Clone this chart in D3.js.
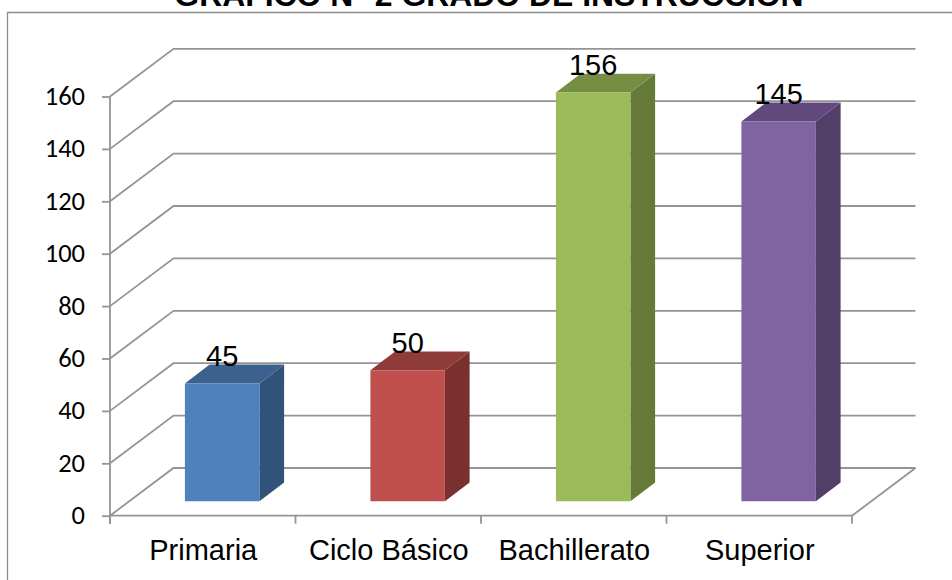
<!DOCTYPE html>
<html>
<head>
<meta charset="utf-8">
<script src="https://cdn.jsdelivr.net/npm/d3@7"></script>
<style>
html, body { margin: 0; padding: 0; background: #fff; overflow: hidden; }
svg { display: block; }
</style>
</head>
<body>
<svg id="chart" width="952" height="580"></svg>
<script>
const categories = ["Primaria", "Ciclo Básico", "Bachillerato", "Superior"];
const values = [45, 50, 156, 145];
const frontColors = ["#4f81bd", "#c0504d", "#9bbb59", "#8064a2"];
const topColors = ["#3c618f", "#8f3b39", "#768e43", "#61497e"];
const sideColors = ["#325379", "#7a302e", "#657a39", "#523f68"];
const yTicks = [0, 20, 40, 60, 80, 100, 120, 140, 160];
const titleText = "GRÁFICO N° 2 GRADO DE INSTRUCCIÓN";

const svg = d3.select("#chart");
const gridColor = "#949494";

// Oblique projection: the floor recedes up and to the right.
const depth = { dx: 63.5, dy: -47.7 };
const barDepth = { dx: 24.7, dy: -18.8 };
const barLift = { dx: 19.4, dy: -14.4 };

const x = d3.scaleBand().domain(categories).range([110, 852]).paddingInner(0).paddingOuter(0);
const y = d3.scaleLinear().domain([0, 160]).range([515.7, 96.5]);

// Chart frame
svg.append("path")
  .attr("d", "M7.5,580V12.5H952")
  .attr("fill", "none").attr("stroke", "#8c8c8c").attr("stroke-width", 1.3);

// Title, running off the top of the frame
svg.append("text").text(titleText)
  .attr("x", 489).attr("y", 6)
  .attr("text-anchor", "middle")
  .attr("font-family", "Liberation Sans").attr("font-weight", "bold")
  .attr("font-size", 31.9).attr("fill", "#000");

// Gridlines: slanted part on the side wall, straight part on the back wall
const grid = svg.append("g").attr("fill", "none").attr("stroke", gridColor).attr("stroke-width", 1.8);
grid.selectAll("path").data(yTicks).join("path")
  .attr("d", d => {
    const p = d3.path();
    p.moveTo(x.range()[0], y(d));
    p.lineTo(x.range()[0] + depth.dx, y(d) + depth.dy);
    p.lineTo(x.range()[1] + depth.dx, y(d) + depth.dy);
    return p.toString();
  });

// Floor edges
const floor = d3.path();
floor.moveTo(x.range()[1] + depth.dx, y(0) + depth.dy);
floor.lineTo(x.range()[1], y(0));
grid.append("path").attr("d", floor.toString());

// Value axis
const yAxis = svg.append("g")
  .attr("transform", `translate(${x.range()[0]},0)`)
  .call(d3.axisLeft(y).tickValues(yTicks).tickSize(8).tickPadding(17).tickFormat(d3.format("d")));
yAxis.select(".domain").remove();
yAxis.append("line").attr("y1", y(160)).attr("y2", y(0) + 8);
yAxis.selectAll("line").attr("stroke", gridColor).attr("stroke-width", 1.8);
yAxis.selectAll("text")
  .attr("font-family", "Carlito, Open Sans, Liberation Sans").attr("font-size", 26.5).attr("fill", "#000")
  .attr("dy", "0.3em");

// Category axis
const boundaries = categories.map(c => x(c)).concat(x.range()[1]);
const xAxis = svg.append("g").attr("stroke", gridColor).attr("stroke-width", 1.8);
xAxis.append("line").attr("x1", x.range()[0]).attr("x2", x.range()[1]).attr("y1", y(0)).attr("y2", y(0));
xAxis.selectAll("line.tick").data(boundaries).join("line").attr("class", "tick")
  .attr("x1", d => d).attr("x2", d => d).attr("y1", y(0)).attr("y2", y(0) + 8);

svg.append("g").selectAll("text").data(categories).join("text")
  .text(d => d)
  .attr("x", d => x(d) + x.bandwidth() / 2 + 0.5)
  .attr("y", 560)
  .attr("text-anchor", "middle")
  .attr("font-family", "Liberation Sans").attr("font-size", 29).attr("fill", "#000");

// Bars: front, top and side faces
const barWidth = 74.5;
const unit = (y(0) - y(1));
const bars = svg.append("g").selectAll("g").data(categories).join("g");
const geom = (c, i) => {
  const left = x(c) + x.bandwidth() / 2 + barLift.dx - barWidth / 2;
  const bottom = y(0) + barLift.dy;
  return { left, right: left + barWidth, bottom, top: bottom - values[i] * unit };
};
bars.append("path")
  .attr("fill", (c, i) => sideColors[i])
  .attr("d", (c, i) => {
    const g = geom(c, i);
    return `M${g.right},${g.top}l${barDepth.dx},${barDepth.dy}V${g.bottom + barDepth.dy}L${g.right},${g.bottom}Z`;
  });
bars.append("path")
  .attr("fill", (c, i) => topColors[i])
  .attr("d", (c, i) => {
    const g = geom(c, i);
    return `M${g.left},${g.top}l${barDepth.dx},${barDepth.dy}H${g.right + barDepth.dx}L${g.right},${g.top}Z`;
  });
bars.append("path")
  .attr("fill", (c, i) => frontColors[i])
  .attr("d", (c, i) => {
    const g = geom(c, i);
    return `M${g.left},${g.top}H${g.right}V${g.bottom}H${g.left}Z`;
  });

// Value labels
bars.append("text")
  .text((c, i) => values[i])
  .attr("x", (c, i) => { const g = geom(c, i); return (g.left + g.right) / 2; })
  .attr("y", (c, i) => geom(c, i).top - 17.5)
  .attr("text-anchor", "middle")
  .attr("font-family", "Liberation Sans").attr("font-size", 29).attr("fill", "#000");
</script>
</body>
</html>
